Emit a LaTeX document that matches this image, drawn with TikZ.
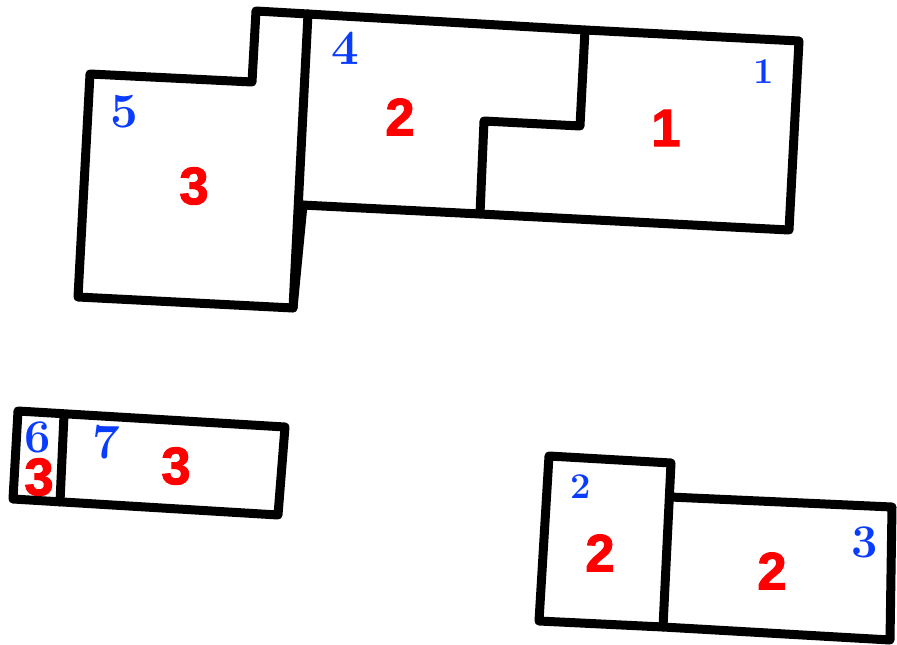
\documentclass[tikz,border=0pt]{standalone}
\usepackage{fontspec}
\newfontfamily\redfont{Liberation Sans}[BoldFeatures={FakeBold=2}]
\usepackage{xcolor}
\definecolor{tagblue}{RGB}{10,60,255}

\tikzset{
  wall/.style={line width=0.27cm, line join=round, line cap=round},
  roomnum/.style={text=red, font=\redfont\bfseries\fontsize{45}{45}\selectfont, inner sep=0pt},
  tagnum/.style={text=tagblue, font=\bfseries\fontsize{42}{42}\selectfont, inner sep=0pt},
  smalltag/.style={tagnum, font=\bfseries\fontsize{31}{31}\selectfont}
}

\begin{document}
\begin{tikzpicture}[x=0.03cm, y=-0.03cm]
  \useasboundingbox (0,0) rectangle (897,645);

  % Upper building, left wing
  \draw[wall] (303,205) -- (293,308) -- (78,297) -- (90,74) -- (252,82) -- (256,11) -- (308,14);
  % Upper building, outline of right wing
  \draw[wall] (308,14) -- (585,30) -- (799,41) -- (789,230) -- (480,214) -- (302,205);
  % Divider between wings
  \draw[wall] (308,14) -- (293,308);
  % Stepped divider
  \draw[wall] (585,30) -- (580,126) -- (484,121) -- (480,214);

  \node[tagnum] (t4) at (345,48) {4};
  \node[roomnum] (r4) at (400,117) {2};
  \node[tagnum] (t5) at (124,112) {5};
  \node[roomnum] (r5) at (194,186) {3};
  \node[smalltag] (t1) at (764,72) {1};
  \node[roomnum] (r1) at (666,128) {1};

  % Small building, bottom left
  \draw[wall] (18,411) -- (285,427) -- (278,515) -- (13,499) -- cycle;
  \draw[wall] (64,415) -- (60,502);

  \node[tagnum, font=\bfseries\fontsize{40}{40}\selectfont] (t6) at (38,437) {6};
  \node[roomnum] (r6) at (39,477) {3};
  \node[tagnum] (t7) at (106,442) {7};
  \node[roomnum] (r7) at (176,466) {3};

  % Building, bottom right
  \draw[wall] (549,456) -- (671,463) -- (663,627) -- (539,621) -- cycle;
  \draw[wall] (670,497) -- (892,507) -- (890,640) -- (663,627);

  \node[smalltag] (t2) at (581,487) {2};
  \node[roomnum] (r2) at (600,553) {2};
  \node[roomnum] (r3) at (772,571) {2};
  \node[tagnum, font=\bfseries\fontsize{40}{40}\selectfont] (t3) at (865,542) {3};
\end{tikzpicture}
\end{document}
